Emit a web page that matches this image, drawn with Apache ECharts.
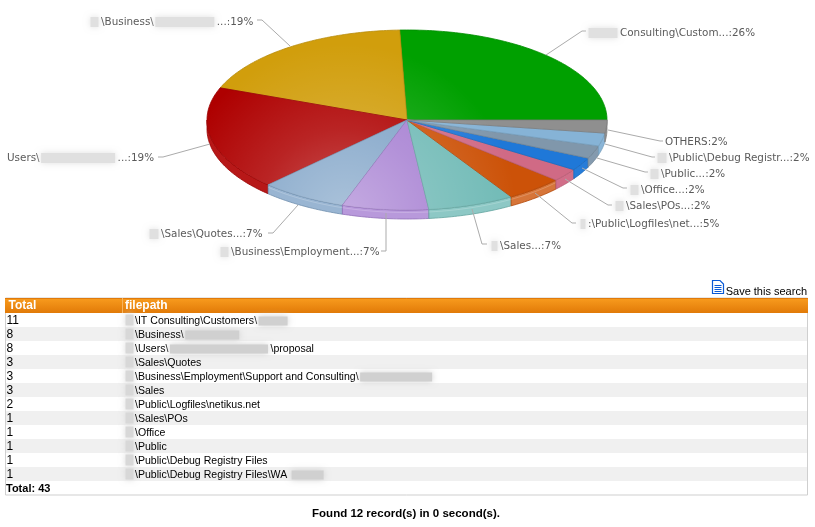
<!DOCTYPE html>
<html><head><meta charset="utf-8">
<style>html,body{margin:0;padding:0;background:#fff}#c{width:815px;height:527px}</style>
<script src="https://cdn.jsdelivr.net/npm/echarts@6/dist/echarts.min.js"></script>
</head><body><div id="c"></div>
<script>
// ---- data ----
const MASK = '\u2592'; // marks a part of the text that is blurred out in the reference
const sliceLabels = [
  MASK + 'Consulting\\Custom...',
  MASK + '\\Business\\' + MASK + '...',
  'Users\\' + MASK + '...',
  MASK + '\\Sales\\Quotes...',
  MASK + '\\Business\\Employment...',
  MASK + '\\Sales...',
  MASK + ':\\Public\\Logfiles\\net...',
  MASK + '\\Sales\\POs...',
  MASK + '\\Office...',
  MASK + '\\Public...',
  MASK + '\\Public\\Debug Registr...',
  'OTHERS'
];
const sliceValues = [11, 8, 8, 3, 3, 3, 2, 1, 1, 1, 1, 1];
const sliceColors = ['#00a000','#d19e0c','#ae0000','#7fa3c7','#a67fd2','#70bab6','#cc5208','#d06a85','#1f78d8','#8097ab','#86b3d6','#8f8f8f'];
const tableHeaders = ['Total', 'filepath'];
const tableTotals = [11, 8, 8, 3, 3, 3, 2, 1, 1, 1, 1, 1];
const tablePaths = [
  '\\IT Consulting\\Customers\\' + MASK,
  '\\Business\\' + MASK,
  '\\Users\\' + MASK + '\\proposal',
  '\\Sales\\Quotes',
  '\\Business\\Employment\\Support and Consulting\\' + MASK,
  '\\Sales',
  '\\Public\\Logfiles\\netikus.net',
  '\\Sales\\POs',
  '\\Office',
  '\\Public',
  '\\Public\\Debug Registry Files',
  '\\Public\\Debug Registry Files\\WA ' + MASK
];
const grandTotalText = 'Total: 43';
const footerText = 'Found 12 record(s) in 0 second(s).';
const saveText = 'Save this search';

// ---- layout ----
const PIE = {cx: 407, cy: 120, rx: 200, ry: 90, depth: 9};
const sliceLayout = [
  {x: 587, y: 33,  blurs: [32],      line: [[546,55],[582,31],[586,31]]},
  {x: 89,  y: 22,  blurs: [11, 62],  line: [[290,46],[262,20],[257,20]]},
  {x: 7,   y: 158, blurs: [77],      line: [[210,144],[163,157],[158,157]]},
  {x: 148, y: 234, blurs: [12],      line: [[298,205],[273,233],[268,233]]},
  {x: 219, y: 252, blurs: [11],      line: [[386,213],[386,251],[381,251]]},
  {x: 490, y: 246, blurs: [9],       line: [[472,209],[482,244],[487,244]]},
  {x: 579, y: 224, blurs: [8],       line: [[535,193],[572,223],[576,223]]},
  {x: 614, y: 206, blurs: [11],      line: [[565,179],[608,205],[612,205]]},
  {x: 629, y: 190, blurs: [11],      line: [[582,168],[623,188],[627,188]]},
  {x: 649, y: 174, blurs: [11],      line: [[597,158],[645,172],[648,172]]},
  {x: 656, y: 158, blurs: [12],      line: [[605,144],[652,157],[655,157]]},
  {x: 665, y: 142, blurs: [],        line: [[608,130],[660,141],[663,141]]}
];
const labelFont = '10.4px "DejaVu Sans"';
const labelColor = '#5a5a5a';
const T = {left: 5.5, right: 807.5, top: 298, head: 15, row: 14, colX: 123, textX: 135, blurX: 124};
const tableBlurWidths = [[32],[57],[101],[],[75],[],[],[],[],[],[],[35]];
const rowFont = '11px "Liberation Sans"';
const ROW_SCALE = 0.96;

const measure = document.createElement('canvas').getContext('2d');
function textW(s, font){ measure.font = font; return measure.measureText(s).width; }

function blurRect(x, y, w, h, c){
  return {type:'rect', silent:true, shape:{x:x+1.5, y:y+1.5, width:Math.max(w-3,1), height:Math.max(h-3,1)},
    style:{fill:c, shadowBlur:6, shadowColor:c}};
}
// lays out text with blurred gaps
function segments(text, x, y, widths, font, color, blurColor, blurH, sx){
  const out = []; let cx = x, k = 0; sx = sx || 1;
  text.split(MASK).forEach((seg, i) => {
    if (i > 0) {
      const w = widths[k++] || 0;
      out.push(blurRect(cx, y - blurH/2, w, blurH, blurColor));
      cx += w + 1;
    }
    if (seg) {
      out.push({type:'text', silent:true, x:cx, y:y, scaleX:sx, style:{x:0, y:0, text:seg, font:font, fill:color, verticalAlign:'middle', align:'left'}});
      cx += textW(seg, font)*sx;
    }
  });
  return out;
}

const total = sliceValues.reduce((a,b)=>a+b,0);
function ell(t, dy){ return [PIE.cx + PIE.rx*Math.cos(t), PIE.cy + (dy||0) - PIE.ry*Math.sin(t)]; }
function arcPts(a0, a1, dy){ const n = Math.max(2, Math.ceil(Math.abs(a1-a0)*60)), p=[]; for(let i=0;i<=n;i++) p.push(ell(a0+(a1-a0)*i/n, dy)); return p; }
function mix(hex, other, k){
  const c = echarts.color.parse(hex), o = echarts.color.parse(other);
  return 'rgb('+[0,1,2].map(i=>Math.round(c[i]+(o[i]-c[i])*k)).join(',')+')';
}
const glow = {type:'radial', x:345, y:215, r:172, global:true,
  colorStops:[{offset:0,color:'rgba(255,255,255,0.34)'},{offset:0.5,color:'rgba(255,255,255,0.14)'},{offset:1,color:'rgba(255,255,255,0)'}]};

function renderSlice(params, api){
  const i = params.dataIndex, v = api.value(0);
  let before = 0; for(let k=0;k<i;k++) before += sliceValues[k];
  const a0 = before/total*2*Math.PI, a1 = (before+v)/total*2*Math.PI;
  const col = sliceColors[i], kids = [];
  // side wall: only the near half of the rim shows
  const s0 = Math.max(a0, Math.PI), s1 = a1;
  if (s1 > s0) {
    const top = arcPts(s0, s1, 0), bot = arcPts(s1, s0, PIE.depth);
    const wallFill = i === 2 ? '#b71818' : mix(col, '#ffffff', i <= 6 ? 0.2 : 0.03);
    kids.push({type:'polygon', shape:{points: top.concat(bot)}, style:{fill:wallFill, stroke:mix(col,'#000000',0.12), lineWidth:0.8}});
    if (i >= 3 && i <= 6) kids.push({type:'polyline', shape:{points: top.map(p=>[p[0],p[1]+2.5])}, style:{fill:null, stroke:'rgba(255,255,255,0.2)', lineWidth:1}});
  }
  const pts = [[PIE.cx,PIE.cy]].concat(arcPts(a0,a1,0));
  kids.push({type:'polygon', shape:{points:pts}, style:{fill:col, stroke:mix(col,'#000000',0.12), lineWidth:0.8}});
  kids.push({type:'polygon', shape:{points:pts}, style:{fill:glow}});
  // label + leader
  const L = sliceLayout[i];
  kids.push({type:'polyline', shape:{points:L.line}, style:{fill:null, stroke:'#ababab', lineWidth:1}});
  const pct = Math.round(v/total*100);
  segments(sliceLabels[i] + ':' + pct + '%', L.x, L.y, L.blurs, labelFont, labelColor, '#e0e0e0', 13)
    .forEach(e=>kids.push(e));
  return {type:'group', children:kids};
}

// ---- table and page furniture ----
const els = [];
const tW = T.right - T.left;
els.push({type:'rect', shape:{x:T.left,y:T.top,width:tW,height:T.head+T.row*13}, style:{fill:'#fff',stroke:'#cfcfcf',lineWidth:1}});
tableTotals.forEach((_, i) => {
  if (i % 2) els.push({type:'rect', shape:{x:T.left+0.5,y:T.top+T.head+i*T.row,width:tW-1,height:T.row}, style:{fill:'#f0f0f0'}});
});
els.push({type:'rect', shape:{x:T.left-0.5,y:T.top,width:tW+1,height:T.head},
  style:{fill:{type:'linear',x:0,y:0,x2:0,y2:1,colorStops:[{offset:0,color:'#f99c1e'},{offset:1,color:'#e17a08'}]}}});
els.push({type:'line', shape:{x1:T.left-0.5,y1:T.top+0.5,x2:T.right+0.5,y2:T.top+0.5}, style:{stroke:'#e07a0c',lineWidth:1}});
els.push({type:'line', shape:{x1:T.colX-0.5,y1:T.top,x2:T.colX-0.5,y2:T.top+T.head}, style:{stroke:'#f8b45c',lineWidth:1}});
const headFont = 'bold 12px "Liberation Sans"';
els.push({type:'text', style:{x:T.left+3,y:T.top+8,text:tableHeaders[0],font:headFont,fill:'#fff',verticalAlign:'middle'}});
els.push({type:'text', style:{x:T.colX+2,y:T.top+8,text:tableHeaders[1],font:headFont,fill:'#fff',verticalAlign:'middle'}});
tableTotals.forEach((tv, i) => {
  const y = T.top + T.head + i*T.row + 7;
  els.push({type:'text', style:{x:T.left+1,y:y+1,text:String(tv),font:'12px "Liberation Sans"',fill:'#000',verticalAlign:'middle'}});
  els.push(blurRect(T.blurX, y-7, 11, 14, '#d8d8d8'));
  segments(tablePaths[i], T.textX, y+1, tableBlurWidths[i], rowFont, '#000', '#d0d0d0', 12, ROW_SCALE).forEach(e=>els.push(e));
});
els.push({type:'text', style:{x:T.left+0.5,y:T.top+T.head+12*T.row+7.5,text:grandTotalText,font:'bold 11px "Liberation Sans"',fill:'#000',verticalAlign:'middle'}});
els.push({type:'text', style:{x:406,y:514,text:footerText,font:'bold 11.5px "Liberation Sans"',fill:'#000',align:'center',verticalAlign:'middle'}});
els.push({type:'text', style:{x:807,y:291.5,text:saveText,font:'11px "Liberation Sans"',fill:'#000',align:'right',verticalAlign:'middle'}});
// document icon
els.push({type:'polygon', shape:{points:[[712.5,280.5],[720,280.5],[723.5,284],[723.5,293.5],[712.5,293.5]]}, style:{fill:'#fff',stroke:'#0a5ad6',lineWidth:1.2}});
[285.5,287.5,289.5,291.5].forEach(y=>els.push({type:'line', shape:{x1:714.5,y1:y,x2:721.5,y2:y}, style:{stroke:'#0a5ad6',lineWidth:1}}));

const chart = echarts.init(document.getElementById('c'), null, {renderer:'canvas', width:815, height:527});
chart.setOption({
  animation:false,
  backgroundColor:'#fff',
  graphic:{elements:els},
  series:[{
    type:'custom', coordinateSystem:'none', silent:true,
    data: sliceValues.map(v=>[v]),
    renderItem: renderSlice
  }]
});
</script></body></html>
